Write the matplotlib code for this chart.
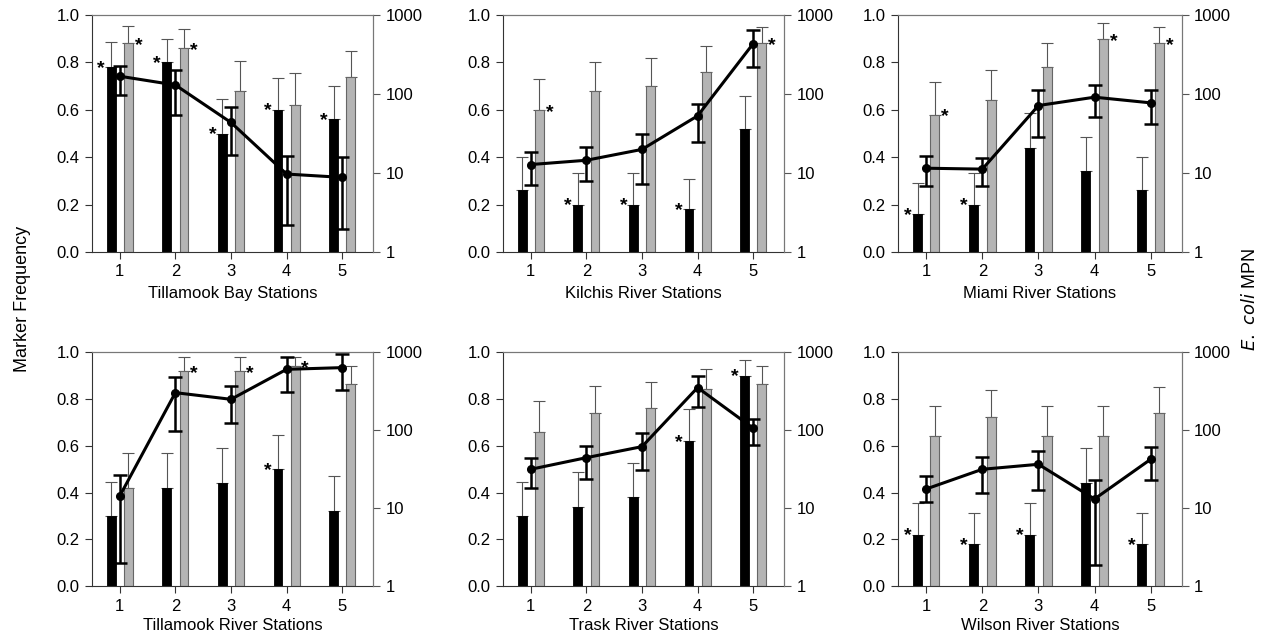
import matplotlib
matplotlib.use('Agg')
import matplotlib.pyplot as plt
import numpy as np

plt.rcParams['font.family'] = ['Liberation Sans', 'DejaVu Sans']
plt.rcParams['font.size'] = 12

estacoes = [1, 2, 3, 4, 5]
titulos = ['Tillamook Bay Stations', 'Kilchis River Stations', 'Miami River Stations',
           'Tillamook River Stations', 'Trask River Stations', 'Wilson River Stations']

# barras pretas (frequência do marcador) e erro superior
preto = [[0.78, 0.80, 0.50, 0.60, 0.56],
         [0.26, 0.20, 0.20, 0.18, 0.52],
         [0.16, 0.20, 0.44, 0.34, 0.26],
         [0.30, 0.42, 0.44, 0.50, 0.32],
         [0.30, 0.34, 0.38, 0.62, 0.90],
         [0.22, 0.18, 0.22, 0.44, 0.18]]
preto_erro = [[0.885, 0.90, 0.645, 0.735, 0.70],
              [0.40, 0.335, 0.335, 0.31, 0.66],
              [0.29, 0.335, 0.585, 0.487, 0.403],
              [0.447, 0.568, 0.589, 0.646, 0.47],
              [0.447, 0.486, 0.528, 0.756, 0.967],
              [0.357, 0.314, 0.357, 0.589, 0.314]]
preto_estrela = [[1, 1, 1, 1, 1],
                 [0, 1, 1, 1, 0],
                 [1, 1, 0, 0, 0],
                 [0, 0, 0, 1, 0],
                 [0, 0, 0, 1, 1],
                 [1, 1, 1, 0, 1]]

# barras cinzas e erro superior
cinza = [[0.883, 0.86, 0.68, 0.62, 0.74],
         [0.60, 0.68, 0.70, 0.76, 0.88],
         [0.58, 0.64, 0.78, 0.90, 0.88],
         [0.42, 0.92, 0.92, 0.94, 0.863],
         [0.66, 0.742, 0.763, 0.842, 0.864],
         [0.642, 0.722, 0.642, 0.642, 0.742]]
cinza_erro = [[0.955, 0.94, 0.805, 0.755, 0.85],
              [0.73, 0.80, 0.82, 0.87, 0.95],
              [0.717, 0.77, 0.883, 0.966, 0.95],
              [0.568, 0.979, 0.979, 0.98, 0.94],
              [0.792, 0.856, 0.872, 0.93, 0.941],
              [0.772, 0.839, 0.772, 0.772, 0.853]]
cinza_estrela = [[1, 1, 0, 0, 0],
                 [1, 0, 0, 0, 1],
                 [1, 0, 0, 1, 1],
                 [0, 1, 1, 1, 0],
                 [0, 0, 0, 0, 0],
                 [0, 0, 0, 0, 0]]

# linha: E. coli MPN (média, limite inferior, limite superior)
mpn = [[168, 130, 43.6, 9.7, 8.8],
       [12.8, 14.5, 19.9, 52.9, 435],
       [11.5, 11.2, 71.5, 91.2, 77.3],
       [14.3, 303, 249, 604, 635],
       [31.5, 44.4, 61.5, 352, 106],
       [17.6, 31.5, 36.5, 13.1, 42.3]]
mpn_inf = [[98, 55, 17, 2.2, 1.94],
           [7.1, 8.0, 7.3, 24.6, 219],
           [6.9, 6.9, 28.3, 50.8, 41.8],
           [1.95, 98.6, 125, 312, 328],
           [17.9, 23.6, 30.8, 197, 64.6],
           [12.1, 15.5, 17.1, 1.86, 23.0]]
mpn_sup = [[224, 202, 67.6, 16.6, 15.8],
           [18.5, 21.3, 31.5, 74.5, 645],
           [16.2, 15.7, 113, 131, 111],
           [26.6, 487, 369, 879, 951],
           [43.5, 63.3, 91.1, 496, 139],
           [25.8, 45.7, 54.6, 23.0, 60.3]]

fig = plt.figure(figsize=(12.65, 6.37), dpi=100)

colunas = [(0.0727, 0.222), (0.3976, 0.222), (0.710, 0.224)]
linhas = [(0.6044, 0.372), (0.080, 0.367)]

largura = 0.16
desloc = 0.155
x = np.array(estacoes)

for i in range(6):
    esq, larg = colunas[i % 3]
    base, alt = linhas[i // 3]
    ax = fig.add_axes([esq, base, larg, alt])

    p = np.array(preto[i])
    c = np.array(cinza[i])
    ax.bar(x - desloc, p, largura, color='black', edgecolor='black', linewidth=0.6, zorder=2)
    ax.bar(x + desloc, c, largura, color='#b4b4b4', edgecolor='#666666', linewidth=0.8, zorder=2)
    ax.errorbar(x - desloc, p, yerr=[np.zeros(5), np.array(preto_erro[i]) - p],
                fmt='none', ecolor='#555555', elinewidth=0.8, capsize=4, capthick=0.8, zorder=1)
    ax.errorbar(x + desloc, c, yerr=[np.zeros(5), np.array(cinza_erro[i]) - c],
                fmt='none', ecolor='#555555', elinewidth=0.8, capsize=4, capthick=0.8, zorder=1)

    for k in range(5):
        if preto_estrela[i][k]:
            ax.text(x[k] - desloc - largura / 2 - 0.1, p[k] - 0.005, '*', ha='center', va='center',
                    fontsize=14, fontweight='bold')
        if cinza_estrela[i][k]:
            ax.text(x[k] + desloc + largura / 2 + 0.1, c[k] - 0.01, '*', ha='center', va='center',
                    fontsize=14, fontweight='bold')

    ax.set_xlim(0.5, 5.55)
    ax.set_ylim(0, 1.0)
    ax.set_yticks([0, 0.2, 0.4, 0.6, 0.8, 1.0])
    ax.set_yticklabels(['0.0', '0.2', '0.4', '0.6', '0.8', '1.0'])
    ax.set_xticks(estacoes)
    ax.set_xlabel(titulos[i], labelpad=5 if i < 3 else 3)
    ax.tick_params(direction='out', length=5, width=0.8, colors='#333333', labelcolor='black', pad=4)
    for lado in ['left', 'bottom']:
        ax.spines[lado].set_color('#333333')
    ax.spines['top'].set_color('#777777')
    ax.spines['right'].set_color('#777777')

    ax2 = ax.twinx()
    m = np.array(mpn[i])
    ax2.errorbar(x, m, yerr=[m - np.array(mpn_inf[i]), np.array(mpn_sup[i]) - m],
                 fmt='-o', color='black', linewidth=2.2, markersize=5.5, ecolor='black',
                 elinewidth=1.8, capsize=5, capthick=1.8, zorder=3)
    ax2.set_yscale('log')
    ax2.set_ylim(1, 1000)
    ax2.set_yticks([1, 10, 100, 1000])
    ax2.set_yticklabels(['1', '10', '100', '1000'])
    ax2.minorticks_off()
    ax2.tick_params(direction='out', length=5, width=0.8, colors='#555555', labelcolor='black', pad=4)
    ax2.spines['right'].set_color('#777777')
    ax2.spines['top'].set_color('#777777')
    ax2.spines['left'].set_visible(False)
    ax2.spines['bottom'].set_visible(False)

fig.text(0.018, 0.53, 'Marker Frequency', rotation=90, ha='center', va='center', fontsize=13)
fig.text(0.988, 0.53, r'$\it{E.\ coli}$ MPN', rotation=90, ha='center', va='center', fontsize=13)

fig.savefig('out.png', dpi=100)
